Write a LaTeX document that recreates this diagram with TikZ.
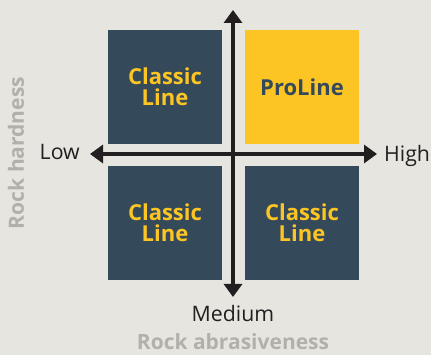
\documentclass[tikz,border=0pt]{standalone}
\usepackage{fontspec}
\setmainfont{Open Sans}
\usetikzlibrary{arrows.meta}
\definecolor{bg}{HTML}{E6E5DF}
\definecolor{navy}{HTML}{344A5A}
\definecolor{gold}{HTML}{FDC524}
\definecolor{axis}{HTML}{231F20}
\definecolor{greytxt}{HTML}{B2B1A9}
\begin{document}
\begin{tikzpicture}[x=1pt,y=-1pt,
  quad/.style={minimum width=114pt,minimum height=114pt,inner sep=0pt,align=center,font=\fontsize{22}{21}\selectfont\bfseries},
  classic/.style={quad,fill=navy,text=gold},
  pro/.style={quad,fill=gold,text=navy},
  axisline/.style={line width=4pt,draw=axis,{Triangle[length=13pt,width=18pt]}-{Triangle[length=13pt,width=18pt]}},
  axlabel/.style={text=axis,font=\fontsize{21.3}{21}\selectfont\mdseries},
  title/.style={text=greytxt,font=\fontsize{21}{21}\selectfont\bfseries}]
\fill[bg] (0,0) rectangle (431,355);
\useasboundingbox (0,0) rectangle (431,355);
\node[classic] (tl) at (165,87) {Classic\\Line};
\node[pro] (tr) at (302,87) {ProLine};
\node[classic] (bl) at (165,223) {Classic\\Line};
\node[classic] (br) at (302,223) {Classic\\Line};
\coordinate (top) at (233,10);
\coordinate (bot) at (233,297);
\coordinate (left) at (90,154);
\coordinate (right) at (377,154);
\draw[axisline] (bot) -- (top);
\draw[axisline] (left) -- (right);
\node[axlabel,anchor=base east,inner sep=0pt] (low) at (80,160) {Low};
\node[axlabel,anchor=base west,inner sep=0pt] (high) at (384,162) {High};
\node[axlabel,anchor=base,inner sep=0pt] (med) at (233,322) {Medium};
\node[title,anchor=base,inner sep=0pt] (xt) at (233,349.5) {Rock abrasiveness};
\node[title,rotate=90,inner sep=0pt] (yt) at (16,153) {Rock hardness};
\end{tikzpicture}
\end{document}
